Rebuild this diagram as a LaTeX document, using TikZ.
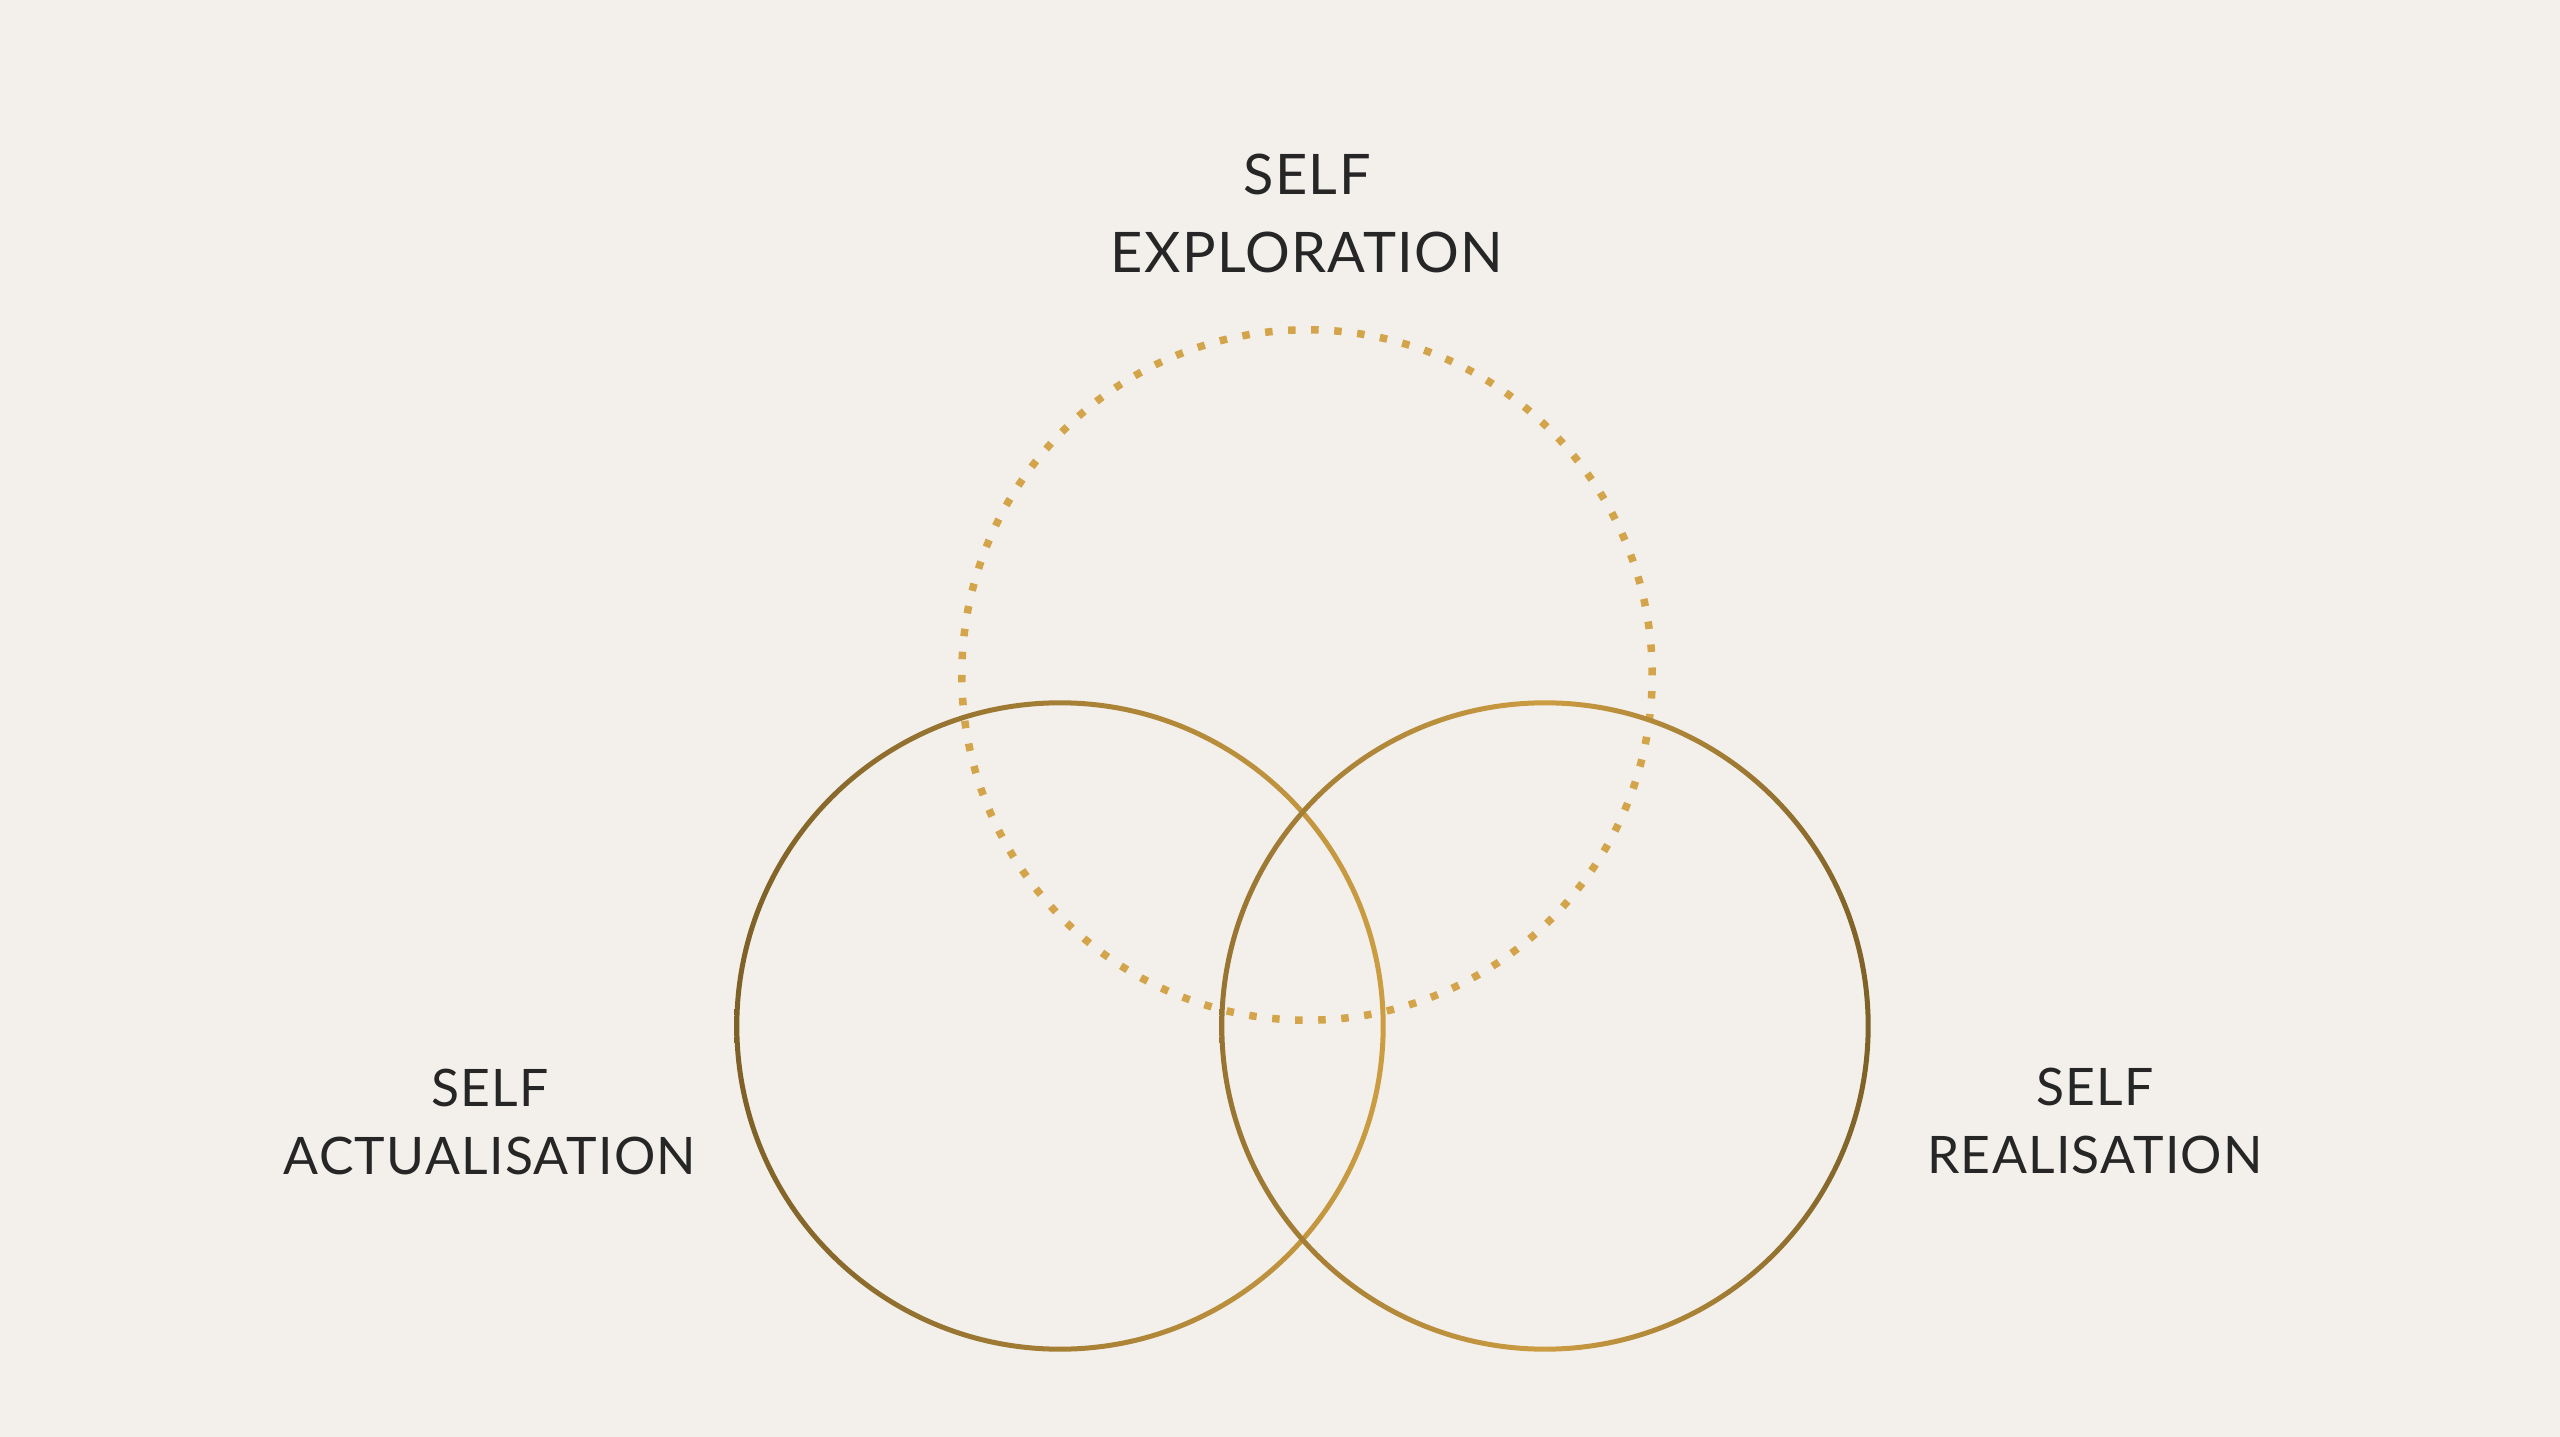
\documentclass[tikz,border=0pt]{standalone}
\usepackage{fontspec}
\setmainfont{Lato}[LetterSpace=2.5]
\usepackage{tikz}

\definecolor{paper}{HTML}{F3F0EB}
\definecolor{ringdark}{HTML}{7E6128}
\definecolor{ringmid}{HTML}{977431}
\definecolor{ringlight}{HTML}{CC9D42}
\definecolor{dotgold}{HTML}{D4A44A}
\definecolor{inkgrey}{HTML}{262626}

\begin{document}
\begin{tikzpicture}[x=0.01cm,y=-0.01cm]
                \tikzstyle{ring}=[circle,inner sep=0,minimum size=6.46cm]
                \tikzstyle{ring stroke}=[even odd rule]
                \tikzstyle{dotted ring}=[circle,draw=dotgold,line width=0.075cm,inner sep=0,minimum size=6.90cm,dash pattern=on 0.075cm off 0.1556cm]
                \tikzstyle{big label}=[align=center,anchor=base,text=inkgrey,font=\fontsize{15.9}{22.2}\selectfont]
                \tikzstyle{small label}=[align=center,anchor=base,text=inkgrey,font=\fontsize{14.7}{19.3}\selectfont]
                \fill[paper] (0,0) rectangle (2560,1437);
                \useasboundingbox (0,0) rectangle (2560,1437);
                \node(explore)[dotted ring] at (1307,675) {};
                \node(actual)[ring] at (1060,1026) {};
                \node(real)[ring] at (1545,1026) {};
                % gold strokes, shaded as thin rings
                \shade[ring stroke,left color=ringdark,right color=ringlight]
                    (actual.center) circle[radius=3.255cm] (actual.center) circle[radius=3.205cm];
                \shade[ring stroke,left color=ringmid,right color=ringdark,middle color=ringlight]
                    (real.center) circle[radius=3.255cm] (real.center) circle[radius=3.205cm];
                % base anchor sits on the last line
                \node(explorelabel)[big label] at (1307,273) {SELF\\EXPLORATION};
                \node(actuallabel)[small label] at (490,1174) {SELF\\ACTUALISATION};
                \node(reallabel)[small label] at (2095,1173) {SELF\\REALISATION};
            \end{tikzpicture}
\end{document}
